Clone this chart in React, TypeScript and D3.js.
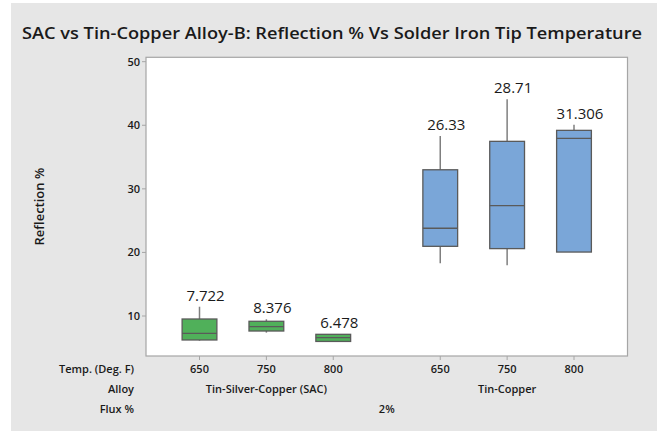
import { useEffect } from "react";
import * as d3 from "d3";

// chart values
const temps = ["650", "750", "800", "650", "750", "800"];
const alloys = ["Tin-Silver-Copper (SAC)", "Tin-Copper"];
const slotPos = [0, 1, 2, 3.6, 4.6, 5.6];
const whiskerHigh = [11.46, 9.48, 7.12, 38.3, 44.1, 40.08];
const boxHigh = [9.53, 9.17, 7.12, 33.0, 37.47, 39.2];
const medians = [7.28, 8.33, 6.6, 23.8, 27.35, 37.94];
const boxLow = [6.23, 7.64, 6.0, 20.96, 20.6, 20.06];
const whiskerLow = [6.12, 7.38, 6.0, 18.3, 17.97, 20.06];
const meanLabels = ["7.722", "8.376", "6.478", "26.33", "28.71", "31.306"];
const yTicks = [10, 20, 30, 40, 50];

const W = 657;
const H = 431;
const plot = { left: 146, right: 627.5, top: 57.3, bottom: 356 };
const font = "'Open Sans', 'Noto Sans', sans-serif";

const App = () => {
    useEffect(() => {
        document.body.style.margin = "0";
    }, []);

    const x = d3.scaleLinear().domain([-0.8, 6.4]).range([plot.left, plot.right]);
    const y = d3.scaleLinear().domain([3.71, 50.69]).range([plot.bottom, plot.top]);
    const boxW = (x(1) - x(0)) * 0.52;

    const boxes = temps.map((t, i) => ({
        t,
        cx: x(slotPos[i]),
        wHi: whiskerHigh[i],
        q3: boxHigh[i],
        med: medians[i],
        q1: boxLow[i],
        wLo: whiskerLow[i],
        label: meanLabels[i],
        fill: i < 3 ? "#50b05a" : "#7aa6d8",
    }));

    const rowX = 134;

    return (
        <svg width={W} height={H} style={{ display: "block" }} fontFamily={font}>
            <rect x={0} y={0} width={W} height={H} fill="#ffffff" />
            <rect x={11} y={3} width={W - 11} height={H - 3} fill="#e6e6e6" />

            {/* title */}
            <text x={22} y={39} fontSize={16.5} fontWeight={600} fill="#1a1a1a"
                  textLength={620} lengthAdjust="spacingAndGlyphs">
                SAC vs Tin-Copper Alloy-B: Reflection % Vs Solder Iron Tip Temperature
            </text>

            {/* plot area */}
            <rect x={plot.left} y={plot.top} width={plot.right - plot.left}
                  height={plot.bottom - plot.top} fill="#ffffff" stroke="#a6a6a6" strokeWidth={1.2} />

            {/* y axis */}
            {yTicks.map((v) => (
                <g key={v}>
                    <line x1={plot.left - 4} x2={plot.left} y1={y(v)} y2={y(v)} stroke="#a6a6a6" />
                    <text x={plot.left - 6} y={y(v)} dy="0.35em" textAnchor="end"
                          fontSize={11} fontWeight={600} fill="#1a1a1a">{v}</text>
                </g>
            ))}
            <text transform={`translate(44,${(plot.top + plot.bottom) / 2}) rotate(-90)`}
                  textAnchor="middle" fontSize={13} fontWeight={600} fill="#1a1a1a">Reflection %</text>

            {/* boxes */}
            {boxes.map((b, i) => (
                <g key={i}>
                    <line x1={b.cx} x2={b.cx} y1={y(b.wHi)} y2={y(b.q3)} stroke="#7f7f7f" strokeWidth={1.5} />
                    <line x1={b.cx} x2={b.cx} y1={y(b.q1)} y2={y(b.wLo)} stroke="#7f7f7f" strokeWidth={1.5} />
                    <rect x={b.cx - boxW / 2} y={y(b.q3)} width={boxW}
                          height={y(b.q1) - y(b.q3)} fill={b.fill} stroke="#5a5a5a" strokeWidth={1.3} />
                    <line x1={b.cx - boxW / 2} x2={b.cx + boxW / 2} y1={y(b.med)} y2={y(b.med)}
                          stroke="#5a5a5a" strokeWidth={1.3} />
                    <text x={b.cx + 6} y={y(b.wHi) - 6} textAnchor="middle" fontSize={15}
                          fill="#1a1a1a">{b.label}</text>
                    {/* x tick */}
                    <line x1={b.cx} x2={b.cx} y1={plot.bottom} y2={plot.bottom + 4} stroke="#a6a6a6" />
                    <text x={b.cx} y={373} textAnchor="middle" fontSize={11} fontWeight={600}
                          fill="#1a1a1a">{b.t}</text>
                </g>
            ))}

            {/* category rows */}
            <text x={rowX} y={373} textAnchor="end" fontSize={11} fontWeight={600} fill="#1a1a1a">Temp. (Deg. F)</text>
            <text x={rowX} y={393} textAnchor="end" fontSize={11} fontWeight={600} fill="#1a1a1a">Alloy</text>
            <text x={rowX} y={413} textAnchor="end" fontSize={11} fontWeight={600} fill="#1a1a1a">Flux %</text>
            {alloys.map((a, g) => (
                <text key={a} x={x(slotPos[g * 3 + 1])} y={393} textAnchor="middle" fontSize={11}
                      fontWeight={600} fill="#1a1a1a">{a}</text>
            ))}
            <text x={(x(slotPos[0]) + x(slotPos[5])) / 2} y={413} textAnchor="middle" fontSize={11}
                  fontWeight={600} fill="#1a1a1a">2%</text>
        </svg>
    );
};

export default App;
